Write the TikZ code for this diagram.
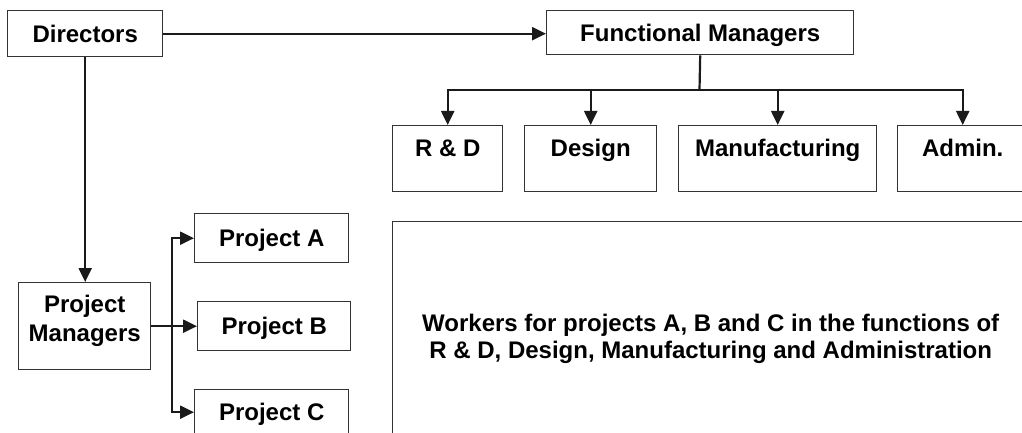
\documentclass[tikz,border=0pt]{standalone}
\usepackage{fontspec}
\setmainfont{Liberation Sans}
\usetikzlibrary{arrows.meta}
\definecolor{boxgray}{HTML}{333333}
\definecolor{linegray}{HTML}{1A1A1A}

\begin{document}
\begin{tikzpicture}[x=1pt,y=-1pt,
  every node/.style={font=\bfseries\fontsize{24pt}{29pt}\selectfont, text=black},
  box/.style={draw=boxgray, line width=1.4pt, fill=white, inner sep=0pt, anchor=north west},
  oneline/.style={text height=17.2pt, text depth=0pt},
  func/.style={box, oneline, minimum height=66pt, text depth=22.2pt},
  proj/.style={box, oneline, minimum width=154pt, minimum height=49pt},
  link/.style={draw=linegray, line width=2.2pt},
  arr/.style={link, -{Triangle[length=14pt,width=13pt]}}
]
% canvas
\useasboundingbox (0,0) rectangle (1022,433);
\fill[white] (0,0) rectangle (1022,433);
\clip (0,0) rectangle (1022,433);

% top level
\node[box, oneline, minimum width=155pt, minimum height=46pt] (dir) at (7,10) {Directors};
\node[box, oneline, minimum width=307pt, minimum height=44pt] (fm) at (546,10) {Functional Managers};

% functions
\node[func, minimum width=110pt] (rd)  at (392,125) {R \& D};
\node[func, minimum width=132pt] (des) at (524,125) {Design};
\node[func, minimum width=198pt] (man) at (678,125) {Manufacturing};
\node[func, minimum width=130pt] (adm) at (897,125) {Admin.};

% projects
\node[box, align=center, minimum width=132pt, minimum height=87pt,
      text height=35pt, text depth=5pt] (pm) at (18,282) {Project\\Managers};
\node[proj] (pa) at (194,213) {Project A};
\node[proj, minimum width=153pt] (pb) at (197,301) {Project B};
\node[proj, minimum height=45pt] (pc) at (194,389) {Project C};

% workers pool
\node[box, align=center, minimum width=636pt, minimum height=235pt,
      font=\bfseries\fontsize{24pt}{27pt}\selectfont] (work) at (392,221)
  {Workers for projects A, B and C in the functions of\\R \& D, Design, Manufacturing and Administration};

% connectors
\draw[arr] (dir.east) -- (dir.east -| fm.west);
\coordinate (fork) at (699.5,90);
\draw[link] (fm.south) -- (fork);
\draw[arr] (fork) -| (rd.north);
\draw[arr] (fork) -| (des.north);
\draw[arr] (fork) -| (man.north);
\draw[arr] (fork) -| (adm.north);

\draw[arr] (dir.south) -- (dir.south |- pm.north);
\draw[arr] (pm.east) -- (pb.west);
\coordinate (split) at (172,325.5);
\draw[arr] (split) |- (pa.west);
\draw[arr] (split) |- (pc.west);
\end{tikzpicture}
\end{document}
